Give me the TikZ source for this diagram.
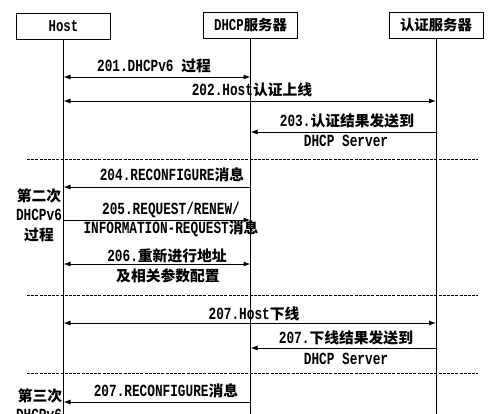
\documentclass[tikz,border=0pt]{standalone}
\usepackage{fontspec}
\setmainfont{Liberation Mono}[FakeStretch=0.75]
\newfontfamily\zhfont{Noto Sans CJK SC}[Scale=0.87]
\newcommand{\zhtext}[1]{{\zhfont #1}}
\usetikzlibrary{arrows.meta, calc}

\begin{document}
\begin{tikzpicture}[
    x=1pt, y=-1pt,
    actor/.style={rectangle, draw, line width=1pt, minimum width=94pt, minimum height=26pt, inner sep=0pt, font=\fontsize{16.5}{19}\selectfont\bfseries},
    lbl/.style={inner sep=0pt, align=center, font=\fontsize{17}{19.5}\selectfont\bfseries},
    life/.style={line width=1pt},
    msg/.style={-{Latex[length=7pt,width=5pt]}, line width=0.9pt},
    both/.style={{Latex[length=7pt,width=5pt]}-{Latex[length=7pt,width=5pt]}, line width=0.9pt},
    sep/.style={dash pattern=on 3pt off 1.2pt, line width=0.8pt}
]
\useasboundingbox (0,0) rectangle (500,413);
\clip (0,0) rectangle (500,413);

% Participants
\node[actor] (host) at (63.5,26.5) {Host};
\node[actor] (dhcp) at (250.5,25.5) {DHCP\zhtext{服务器}};
\node[actor] (auth) at (436,25.5) {\zhtext{认证服务器}};

% Lifelines
\coordinate (bottom) at (0,420);
\draw[life] (host) -- (host |- bottom);
\draw[life] (dhcp) -- (dhcp |- bottom);
\draw[life] (auth) -- (auth |- bottom);

% Rows of messages
\coordinate (r1) at (0,77);
\coordinate (r2) at (0,101);
\coordinate (r3) at (0,132);
\coordinate (r4) at (0,187);
\coordinate (r5) at (0,220);
\coordinate (r6) at (0,264);
\coordinate (r7) at (0,323);
\coordinate (r8) at (0,348);
\coordinate (r9) at (0,402);

% Phase separators
\foreach \y in {159,295,373}
    \draw[sep] (27,\y) -- (478,\y);

% Messages
\draw[both] (host |- r1) -- (dhcp |- r1);
\draw[both] (host |- r2) -- (auth |- r2);
\draw[msg] (auth |- r3) -- (dhcp |- r3);
\draw[msg] (dhcp |- r4) -- (host |- r4);
\draw[msg] (host |- r5) -- (dhcp |- r5);
\draw[both] (host |- r6) -- (dhcp |- r6);
\draw[both] (host |- r7) -- (auth |- r7);
\draw[msg] (auth |- r8) -- (dhcp |- r8);
\draw[msg] (dhcp |- r9) -- (host |- r9);

% Message labels
\node[lbl] (l201) at (154,66) {201.DHCPv6 \zhtext{过程}};
\node[lbl] (l202) at (252,90) {202.Host\zhtext{认证上线}};
\node[lbl] (l203a) at (347,121) {203.\zhtext{认证结果发送到}};
\node[lbl] (l203b) at (346,141) {DHCP Server};
\node[lbl] (l204) at (172,175) {204.RECONFIGURE\zhtext{消息}};
\node[lbl] (l205a) at (171,210) {205.REQUEST/RENEW/};
\node[lbl] (l205b) at (171,229) {INFORMATION-REQUEST\zhtext{消息}};
\node[lbl] (l206a) at (167,256) {206.\zhtext{重新进行地址}};
\node[lbl] (l206b) at (168,276) {\zhtext{及相关参数配置}};
\node[lbl] (l207a) at (254,314) {207.Host\zhtext{下线}};
\node[lbl] (l207b) at (346,338) {207.\zhtext{下线结果发送到}};
\node[lbl] (l207c) at (346,359) {DHCP Server};
\node[lbl] (l207d) at (166,391) {207.RECONFIGURE\zhtext{消息}};

% Phase labels
\node[lbl] (second) at (39,215) {\zhtext{第二次}\\DHCPv6\\\zhtext{过程}};
\node[lbl] (third) at (40,396) {\zhtext{第三次}};
\node[lbl] (thirdb) at (39,415) {DHCPv6};

\end{tikzpicture}
\end{document}
